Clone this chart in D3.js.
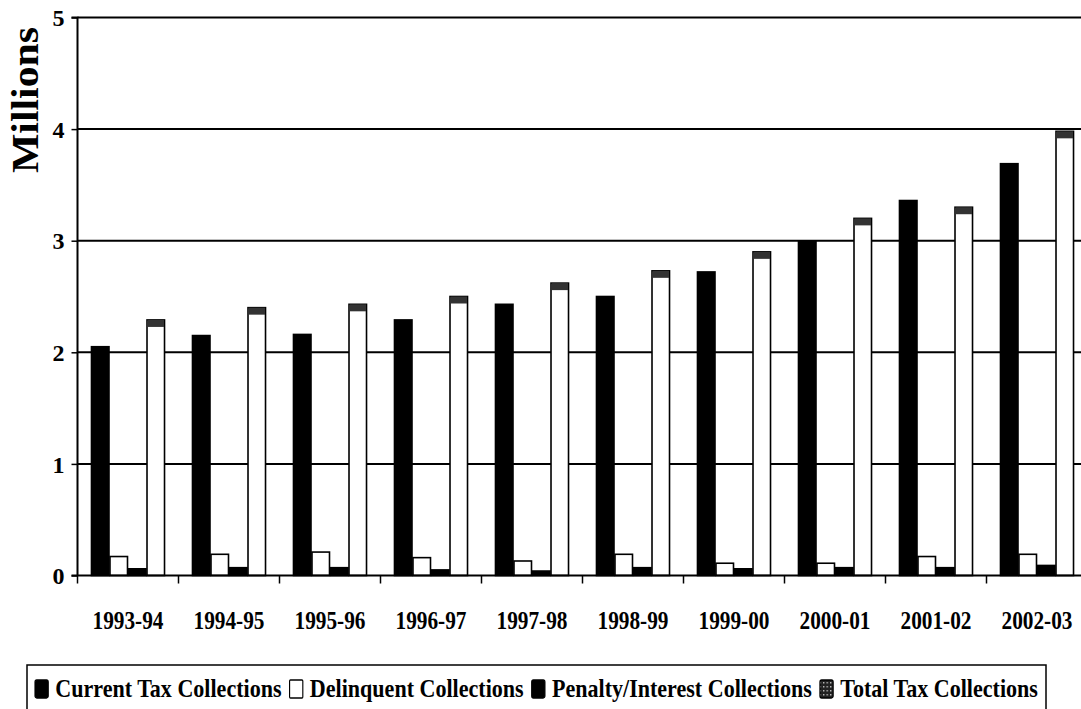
<!DOCTYPE html>
<html lang="en">
<head>
<meta charset="UTF-8" />
<title>Tax Collections</title>
<script src="https://cdnjs.cloudflare.com/ajax/libs/d3/7.8.5/d3.min.js"></script>
<style>
  body { margin: 0; background: #fff; }
  svg { display: block; }
  text { font-family: "Liberation Serif", "Times New Roman", serif; font-weight: bold; fill: #000; }
</style>
</head>
<body>
<script>
// fiscal years on the x axis
const years = ["1993-94","1994-95","1995-96","1996-97","1997-98","1998-99","1999-00","2000-01","2001-02","2002-03"];
// values in millions
const currentTax = [2.05, 2.15, 2.16, 2.29, 2.43, 2.50, 2.72, 2.99, 3.36, 3.69];
const delinquent = [0.17, 0.19, 0.21, 0.16, 0.13, 0.19, 0.11, 0.11, 0.17, 0.19];
const penalty    = [0.06, 0.07, 0.07, 0.05, 0.04, 0.07, 0.06, 0.07, 0.07, 0.09];
const totalTax   = [2.29, 2.40, 2.43, 2.50, 2.62, 2.73, 2.90, 3.20, 3.30, 3.98];
const yTicks = [0, 1, 2, 3, 4, 5];
const seriesNames = ["Current Tax Collections","Delinquent Collections","Penalty/Interest Collections","Total Tax Collections"];

const W = 1081, H = 709;
const svg = d3.select("body").append("svg").attr("width", W).attr("height", H);

const plotL = 77.5, plotR = 1087.5, plotT = 17.5, plotB = 575.5;

const y = d3.scaleLinear().domain([0, 5]).range([plotB, plotT]);
const x0 = d3.scaleBand().domain(years).range([plotL, plotR])
  .paddingInner(0.267).paddingOuter(0.1335);
const x1 = d3.scaleBand().domain(seriesNames).range([0, x0.bandwidth()]);

const fills = { "Current Tax Collections": "#000", "Delinquent Collections": "#fff",
  "Penalty/Interest Collections": "#000", "Total Tax Collections": "#fff" };

// gridlines
svg.append("g").selectAll("line").data(yTicks.filter(d => d > 0)).join("line")
  .attr("x1", plotL).attr("x2", W).attr("y1", d => y(d)).attr("y2", d => y(d))
  .attr("stroke", "#000").attr("stroke-width", 2);

// bars
const rows = years.map((yr, i) => ({ yr, vals: [currentTax[i], delinquent[i], penalty[i], totalTax[i]] }));
const groups = svg.append("g").selectAll("g").data(rows).join("g")
  .attr("transform", d => `translate(${x0(d.yr)},0)`);
groups.selectAll("rect.bar").data(d => d.vals.map((v, k) => ({ name: seriesNames[k], v }))).join("rect")
  .attr("class", "bar")
  .attr("x", d => x1(d.name) + 0.5).attr("width", x1.bandwidth() - 1)
  .attr("y", d => y(d.v)).attr("height", d => y(0) - y(d.v))
  .attr("fill", d => fills[d.name]).attr("stroke", "#000").attr("stroke-width", 1.6);
// dark cap on the total bars (pattern fill in the original)
groups.append("rect")
  .attr("x", x1("Total Tax Collections") + 1).attr("width", x1.bandwidth() - 2)
  .attr("y", (d, i) => y(totalTax[i])).attr("height", 7)
  .attr("fill", "#333");

// y axis
const yAxis = d3.axisLeft(y).tickValues(yTicks).tickSize(6).tickPadding(7).tickFormat(d3.format("d"));
const gy = svg.append("g").attr("transform", `translate(${plotL},0)`).call(yAxis);
gy.select(".domain").attr("stroke-width", 2).attr("d", `M-6,${plotT}H0V${plotB}`);
gy.selectAll(".tick line").attr("stroke-width", 1.5);
gy.selectAll(".tick text").style("font-size", "24px").attr("dy", "0.34em");

// x axis
const gx = svg.append("g").attr("transform", `translate(0,${plotB})`);
gx.append("line").attr("x1", plotL - 6).attr("x2", W).attr("y1", 0).attr("y2", 0)
  .attr("stroke", "#000").attr("stroke-width", 2);
const step = x0.step();
gx.selectAll("line.tk").data(d3.range(years.length + 1)).join("line").attr("class", "tk")
  .attr("x1", i => plotL + i * step).attr("x2", i => plotL + i * step)
  .attr("y1", 0).attr("y2", 8).attr("stroke", "#000").attr("stroke-width", 1.5);
gx.selectAll("text").data(years).join("text")
  .attr("x", d => x0(d) + x0.bandwidth() / 2).attr("y", 53)
  .attr("text-anchor", "middle").style("font-size", "26px")
  .attr("textLength", 71).attr("lengthAdjust", "spacingAndGlyphs")
  .text(d => d);

// y axis title
svg.append("text")
  .attr("transform", "translate(38,100) rotate(-90)")
  .attr("text-anchor", "middle").style("font-size", "37px")
  .attr("textLength", 146).attr("lengthAdjust", "spacingAndGlyphs")
  .text("Millions");

// legend
const legX = 27, legY = 665, legRight = 1046;
svg.append("rect").attr("x", legX).attr("y", legY).attr("width", legRight - legX).attr("height", 60)
  .attr("fill", "none").attr("stroke", "#000").attr("stroke-width", 1.5);

const defs = svg.append("defs");
const pat = defs.append("pattern").attr("id", "tot").attr("width", 4).attr("height", 4)
  .attr("patternUnits", "userSpaceOnUse");
pat.append("rect").attr("width", 4).attr("height", 4).attr("fill", "#222");
pat.append("rect").attr("x", 1).attr("y", 1).attr("width", 1.5).attr("height", 1.5).attr("fill", "#bbb");
const legFill = ["#000", "#fff", "#000", "url(#tot)"];

const leg = svg.append("g");
let cx = 0;
const itemGap = 9, boxW = 15, textGap = 8;
seriesNames.forEach((name, k) => {
  leg.append("rect").attr("x", cx).attr("y", -17).attr("width", boxW).attr("height", 18)
    .attr("rx", k === 1 ? 1 : 2)
    .attr("fill", legFill[k]).attr("stroke", "#000").attr("stroke-width", 1.3);
  const t = leg.append("text").attr("x", cx + boxW + textGap).attr("y", 0)
    .style("font-size", "25px").text(name);
  cx += boxW + textGap + t.node().getComputedTextLength() + itemGap;
});
const natural = cx - itemGap;
const sx = (1038 - 35) / natural;
leg.attr("transform", `translate(35,${legY + 32}) scale(${sx},1)`);
</script>
</body>
</html>
